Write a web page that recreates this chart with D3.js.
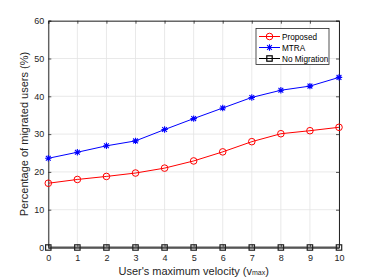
<!DOCTYPE html>
<html><head><meta charset="utf-8">
<script src="https://cdn.jsdelivr.net/npm/d3@7"></script>
<style>body{margin:0;background:#fff;} text{font-family:"Liberation Sans",Arial,Helvetica,sans-serif;}</style>
</head><body><svg id="c" width="374" height="280"></svg>
<script>
const velocity = [0,1,2,3,4,5,6,7,8,9,10];
const proposed = [17.0,18.0,18.8,19.7,21.0,22.9,25.3,28.0,30.1,30.9,31.8];
const mtra = [23.6,25.2,26.9,28.2,31.2,34.1,36.9,39.7,41.6,42.7,45.0];
const noMigration = [0,0,0,0,0,0,0,0,0,0,0];
const yTicks = [0,10,20,30,40,50,60];
const xTicks = [0,1,2,3,4,5,6,7,8,9,10];
const seriesNames = ["Proposed","MTRA","No Migration"];

const svg = d3.select("#c");
const L=48.3,R=339,T=20.7,B=247.5;
const x = d3.scaleLinear().domain([0,10]).range([L,R]);
const y = d3.scaleLinear().domain([0,60]).range([B,T]);
const axisCol="#262626";

// grid
const g = svg.append("g");
g.selectAll(".gx").data(xTicks).enter().append("line")
 .attr("x1",d=>x(d)).attr("x2",d=>x(d)).attr("y1",T).attr("y2",B)
 .attr("stroke","#e3e3e3").attr("stroke-width",0.8);
g.selectAll(".gy").data(yTicks).enter().append("line")
 .attr("y1",d=>y(d)).attr("y2",d=>y(d)).attr("x1",L).attr("x2",R)
 .attr("stroke","#e3e3e3").attr("stroke-width",0.8);

// axes
const ax = svg.append("g").attr("transform",`translate(0,${B})`)
 .call(d3.axisBottom(x).tickValues(xTicks).tickSize(-3).tickPadding(7).tickFormat(d3.format("d")));
const ay = svg.append("g").attr("transform",`translate(${L},0)`)
 .call(d3.axisLeft(y).tickValues(yTicks).tickSize(-3).tickPadding(4));
const axT = svg.append("g").attr("transform",`translate(0,${T})`)
 .call(d3.axisTop(x).tickValues(xTicks).tickSize(-3).tickFormat(""));
const ayR = svg.append("g").attr("transform",`translate(${R},0)`)
 .call(d3.axisRight(y).tickValues(yTicks).tickSize(-3).tickFormat(""));
[ax,ay,axT,ayR].forEach(a=>{
  a.select(".domain").attr("stroke",axisCol).attr("stroke-width",1);
  a.selectAll(".tick line").attr("stroke",axisCol).attr("stroke-width",0.8);
  a.selectAll(".tick text").attr("fill","#262626").style("font-size","9px").style("font-family","Liberation Sans, Arial, sans-serif");
});

const line = d3.line().x((d,i)=>x(velocity[i])).y(d=>y(d));
const cols = ["#ff0000","#0000ff","#000000"];
const data = [proposed,mtra,noMigration];

function marker(sel, k, cx, cy, col){
  if(k===0){
    sel.append("circle").attr("cx",cx).attr("cy",cy).attr("r",3.3).attr("fill","none").attr("stroke",col).attr("stroke-width",1);
  } else if(k===1){
    const r=3.2, r2=2.4;
    sel.append("path").attr("d",`M${cx-r},${cy}H${cx+r}M${cx},${cy-r}V${cy+r}M${cx-r2},${cy-r2}L${cx+r2},${cy+r2}M${cx-r2},${cy+r2}L${cx+r2},${cy-r2}`)
      .attr("stroke",col).attr("stroke-width",1.1).attr("fill","none");
  } else {
    sel.append("rect").attr("x",cx-2.7).attr("y",cy-2.7).attr("width",5.4).attr("height",5.4).attr("fill","none").attr("stroke",col).attr("stroke-width",1.2);
  }
}

data.forEach((arr,k)=>{
  svg.append("path").datum(arr).attr("d",line).attr("fill","none")
    .attr("stroke",k===2?"#555":cols[k]).attr("stroke-width",k===2?2.2:1);
  const mg = svg.append("g");
  arr.forEach((v,i)=>marker(mg,k,x(velocity[i]),y(v),k===2?"#222":cols[k]));
});

// legend
const lg = svg.append("g");
lg.append("rect").attr("x",256).attr("y",28.5).attr("width",73).attr("height",36)
 .attr("fill","#fff").attr("stroke","#262626").attr("stroke-width",0.8);
seriesNames.forEach((n,k)=>{
  const yy = 36.5 + k*11;
  lg.append("line").attr("x1",259).attr("x2",280).attr("y1",yy).attr("y2",yy).attr("stroke",cols[k]).attr("stroke-width",1);
  marker(lg,k,269.5,yy,cols[k]);
  lg.append("text").attr("x",282).attr("y",yy+3).text(n).style("font-size","8.2px").attr("fill","#000");
});

// labels
const xl = svg.append("text").attr("x",(L+R)/2).attr("y",275).attr("text-anchor","middle")
 .style("font-size","11px").attr("fill","#262626");
xl.append("tspan").text("User's maximum velocity (v");
xl.append("tspan").text("max").style("font-size","7px");
xl.append("tspan").text(")");
svg.append("text").attr("transform",`translate(28,${(T+B)/2}) rotate(-90)`).attr("text-anchor","middle")
 .style("font-size","11px").attr("fill","#262626").text("Percentage of migrated users (%)");
</script></body></html>
